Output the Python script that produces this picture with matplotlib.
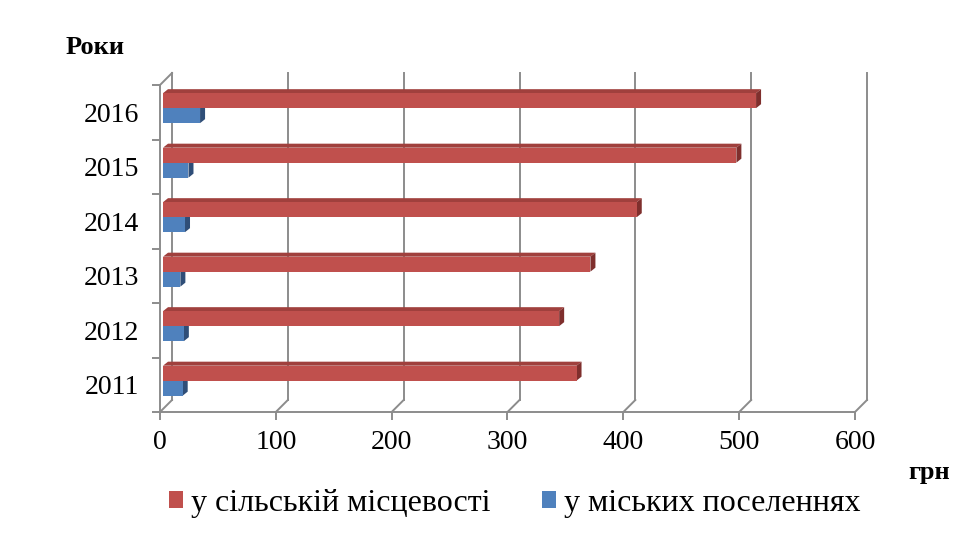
import matplotlib
matplotlib.use("Agg")
import matplotlib.pyplot as plt
from matplotlib.patches import Polygon, Patch

plt.rcParams['font.family'] = ['Liberation Serif', 'DejaVu Serif']

years = ["2011", "2012", "2013", "2014", "2015", "2016"]
rural = [357, 342, 369, 409, 495, 512]   # у сільській місцевості
urban = [17, 18, 15, 19, 22, 32]         # у міських поселеннях
xticks = [0, 100, 200, 300, 400, 500, 600]

red = "#C0504D"
red_top = "#A0403D"
red_side = "#7F2F2D"
blue = "#4F81BD"
blue_top = "#3F6A9E"
blue_side = "#2F4E78"
grid_c = "#8C8C8C"

W, H = 954, 538
fig = plt.figure(figsize=(W / 100, H / 100), dpi=100)
ax_l, ax_r, ax_b, ax_t = 160, 855, 412, 85
ax = fig.add_axes([ax_l / W, 1 - ax_b / H, (ax_r - ax_l) / W, (ax_b - ax_t) / H])
ax.set_xlim(0, 600)
ax.set_ylim(-0.5, 5.5)

# pixel -> data conversion for fake 3d
px_x = 600 / (ax_r - ax_l)
px_y = 6 / (ax_b - ax_t)
OX, OY = 12 * px_x, 12 * px_y      # back wall offset
dx, dy = 5 * px_x, 4 * px_y        # bar depth
shift = 3 * px_x                   # bars start a bit behind the front

ymin, ymax = -0.5, 5.5
# back gridlines + floor diagonals
for x in xticks:
    ax.plot([x + OX, x + OX], [ymin + OY, ymax + OY], color=grid_c, lw=1.4, clip_on=False, zorder=1)
    ax.plot([x, x + OX], [ymin, ymin + OY], color=grid_c, lw=1.4, clip_on=False, zorder=1)
ax.plot([0, OX], [ymax, ymax + OY], color=grid_c, lw=1.4, clip_on=False, zorder=1)


def bar3d(y, v, h, front, top, side):
    x0, x1 = shift, shift + v
    ax.add_patch(Polygon([(x0, y + h), (x1, y + h), (x1 + dx, y + h + dy), (x0 + dx, y + h + dy)],
                         closed=True, facecolor=top, edgecolor="none", zorder=3, clip_on=False))
    ax.add_patch(Polygon([(x1, y), (x1 + dx, y + dy), (x1 + dx, y + h + dy), (x1, y + h)],
                         closed=True, facecolor=side, edgecolor="none", zorder=3, clip_on=False))
    ax.add_patch(Polygon([(x0, y), (x1, y), (x1, y + h), (x0, y + h)],
                         closed=True, facecolor=front, edgecolor="none", zorder=3, clip_on=False))


bh = 0.275
for i in range(len(years)):
    bar3d(i - 0.2, urban[i], bh, blue, blue_top, blue_side)
for i in range(len(years)):
    bar3d(i - 0.2 + bh, rural[i], bh, red, red_top, red_side)

for s in ["top", "right"]:
    ax.spines[s].set_visible(False)
for s in ["left", "bottom"]:
    ax.spines[s].set_color(grid_c)
    ax.spines[s].set_linewidth(1.4)

ax.set_xticks(xticks)
ax.set_xticklabels([str(t) for t in xticks])
ax.set_yticks([i - 0.5 for i in range(len(years) + 1)])
ax.set_yticklabels([])
ax.set_yticks(range(len(years)), minor=True)
ax.set_yticklabels(years, minor=True)
ax.tick_params(axis="both", which="major", color=grid_c, width=1.4, length=6, labelsize=20, pad=7)
ax.tick_params(axis="y", which="minor", length=0, labelsize=20, pad=15)

fig.text(66 / W, 1 - 47 / H, "Роки", fontsize=19, fontweight="bold", va="center", ha="left")
fig.text(950 / W, 1 - 472 / H, "грн", fontsize=19, fontweight="bold", va="center", ha="right")

handles = [Patch(facecolor=red, label="у сільській місцевості"),
           Patch(facecolor=blue, label="у міських поселеннях")]
fig.legend(handles=handles, loc="center", bbox_to_anchor=(515 / W, 1 - 503 / H), ncol=2,
           frameon=False, fontsize=23, handlelength=0.45, handleheight=0.45, handletextpad=0.25,
           columnspacing=1.6)

fig.savefig("out.png", dpi=100)
